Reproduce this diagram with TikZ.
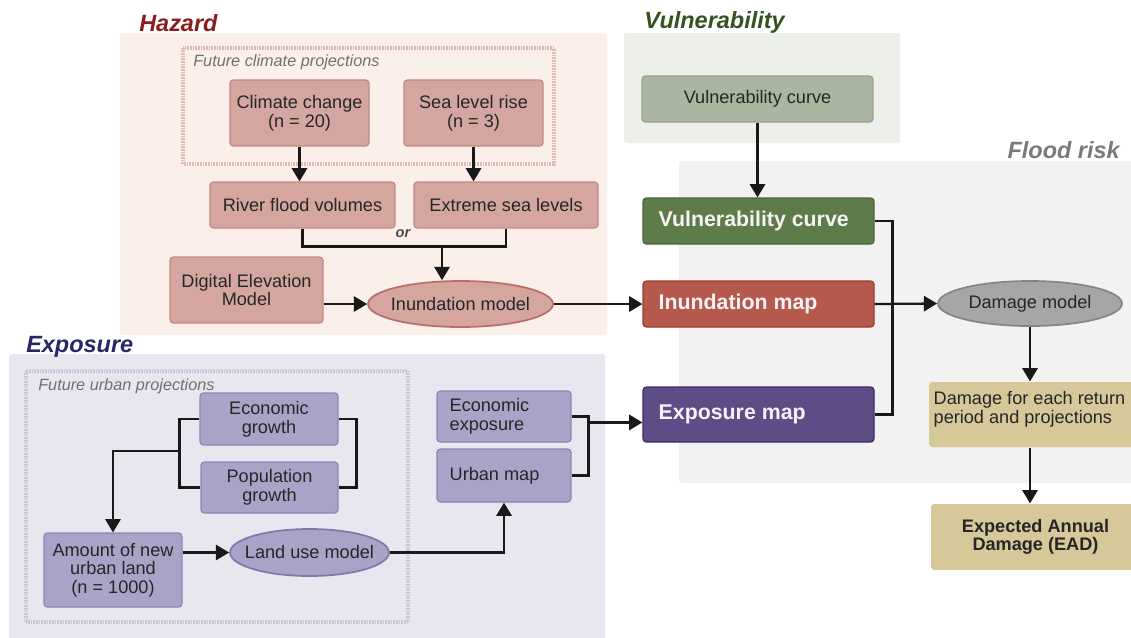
\documentclass[tikz,border=0pt]{standalone}
\usepackage{fontspec}
\setmainfont{Liberation Sans}
\usetikzlibrary{arrows.meta,calc,shapes.geometric}
\definecolor{txt}{HTML}{262626}
\definecolor{wtx}{HTML}{F6F2F6}
\definecolor{hzBg}{HTML}{FBEFE9}
\definecolor{hzF}{HTML}{D5A69F}
\definecolor{hzB}{HTML}{C48880}
\definecolor{hzE}{HTML}{B96E68}
\definecolor{hzDot}{HTML}{E2B9B9}
\definecolor{hzT}{HTML}{8A1C20}
\definecolor{vuBg}{HTML}{EDF0EA}
\definecolor{vuF}{HTML}{AAB69F}
\definecolor{vuB}{HTML}{98A48C}
\definecolor{vuT}{HTML}{35521F}
\definecolor{dgF}{HTML}{5E7B4A}
\definecolor{dgB}{HTML}{4A6837}
\definecolor{frBg}{HTML}{F2F2F2}
\definecolor{frT}{HTML}{7A7A7A}
\definecolor{rdF}{HTML}{B6594D}
\definecolor{rdB}{HTML}{A13A30}
\definecolor{puF}{HTML}{5E4C86}
\definecolor{puB}{HTML}{3C2D68}
\definecolor{gyF}{HTML}{A6A6A6}
\definecolor{gyB}{HTML}{858585}
\definecolor{tnF}{HTML}{D6C899}
\definecolor{exBg}{HTML}{E8E7F0}
\definecolor{exF}{HTML}{A8A4C7}
\definecolor{exB}{HTML}{8C86B3}
\definecolor{exE}{HTML}{7F79A8}
\definecolor{exDot}{HTML}{C9C6D9}
\definecolor{exT}{HTML}{2A2766}
\definecolor{subT}{HTML}{707070}
\newcommand\bodyf{\fontsize{13.6pt}{14pt}\selectfont}
\newcommand\titlef{\fontsize{17.6pt}{19pt}\selectfont}
\newcommand\whitef{\fontsize{16pt}{18pt}\selectfont}
\newcommand\subf{\fontsize{12.2pt}{14pt}\selectfont}
\tikzset{
  bsz/.style 2 args={minimum width=#1*0.75pt, minimum height=#2*0.75pt},
  every label/.style={font=\bodyf, text=txt, inner sep=0pt},
  boxbase/.style={rectangle, rounded corners=2.5pt, line width=0.9pt, align=center, font=\bodyf, text=txt, inner sep=0pt},
  hbox/.style={boxbase, draw=hzB, fill=hzF},
  hell/.style={ellipse, draw=hzE, fill=hzF, line width=1.3pt, inner sep=0pt},
  vlbox/.style={boxbase, draw=vuB, fill=vuF},
  dgbox/.style={boxbase, draw=dgB, fill=dgF},
  rdbox/.style={boxbase, draw=rdB, fill=rdF},
  pubox/.style={boxbase, draw=puB, fill=puF},
  gell/.style={ellipse, draw=gyB, fill=gyF, line width=1.3pt, inner sep=0pt},
  tnbox/.style={boxbase, draw=none, fill=tnF},
  pbox/.style={boxbase, draw=exB, fill=exF},
  pell/.style={ellipse, draw=exE, fill=exF, line width=1.3pt, inner sep=0pt},
  wlab/.style={label={[anchor=west, xshift=16*0.75pt, font=\whitef\bfseries, text=wtx, inner sep=0pt]west:{#1}}},
  llab/.style={label={[anchor=west, xshift=13*0.75pt, align=left, font=\bodyf, text=txt, inner sep=0pt]west:{#1}}},
  ttl/.style={font=\titlef\bfseries\itshape, inner sep=0pt},
  sub/.style={font=\subf\itshape, text=subT, inner sep=0pt},
  ortxt/.style={font=\fontsize{11pt}{12pt}\selectfont\bfseries\itshape, text=black!70, inner sep=0pt},
  ln/.style={line width=1.7pt, draw=black!90},
  arr/.style={ln, -{Triangle[length=10pt,width=11.5pt]}},
  hzdot/.style={draw=hzDot, line width=2.3pt, dash pattern=on 0.6pt off 0.6pt},
  exdot/.style={draw=exDot, line width=2.3pt, dash pattern=on 0.6pt off 0.6pt}
}
\begin{document}
\begin{tikzpicture}[x=0.75pt,y=-0.75pt]
\useasboundingbox[fill=white] (0,0) rectangle (1131,637);
% panels
\fill[hzBg, rounded corners=2pt] (120,33) rectangle (607,335);
\fill[vuBg, rounded corners=2pt] (624,33) rectangle (900,143);
\fill[frBg, rounded corners=2pt] (679,161) rectangle (1145,483);
\fill[exBg, rounded corners=2pt] (9,354) rectangle (605,645);
\draw[hzdot] (183,48) rectangle (554,164);
\draw[exdot] (26,371) rectangle (408,622);
% titles
\node[ttl, text=hzT, anchor=west] (tHaz) at (139,23) {Hazard};
\node[ttl, text=vuT, anchor=west] (tVul) at (644,22) {Vulnerability};
\node[ttl, text=frT, anchor=east] (tFr) at (1120,150) {Flood risk};
\node[ttl, text=exT, anchor=west] (tExp) at (26,347) {Exposure};
\node[sub, anchor=west] (lFcp) at (193,62) {Future climate projections};
\node[sub, anchor=west] (lFup) at (38,386) {Future urban projections};
% hazard nodes
\node[hbox, bsz={139}{66}] (cc) at (299.5,113) {Climate change\\(n = 20)};
\node[hbox, bsz={139}{66}] (slr) at (473.5,113) {Sea level rise\\(n = 3)};
\node[hbox, bsz={185}{46}] (rfv) at (302.5,205) {River flood volumes};
\node[hbox, bsz={184}{46}] (esl) at (506,205) {Extreme sea levels};
\node[hbox, bsz={153}{66}] (dem) at (246.5,290) {Digital Elevation\\Model};
\node[hell, bsz={185}{46}, label=center:Inundation model] (inm) at (460.5,304) {};
% vulnerability / flood risk nodes
\node[vlbox, bsz={231}{46}] (vcl) at (757.5,99) {Vulnerability curve};
\node[dgbox, bsz={231}{46}, wlab={Vulnerability curve}] (vcd) at (758.5,221) {};
\node[rdbox, bsz={231}{46}, wlab={Inundation map}] (imap) at (758.5,304) {};
\node[pubox, bsz={231}{55}, wlab={Exposure map}] (emap) at (758.5,414.5) {};
\node[gell, bsz={184}{45}, label=center:Damage model] (dmg) at (1030,303.5) {};
\node[tnbox, bsz={211}{65}, label={[anchor=west, xshift=5*0.75pt, yshift=4pt, align=left, font=\bodyf, text=txt, inner sep=0pt]west:{Damage for each return\\period and projections}}] (dfr) at (1034.5,414.5) {};
\node[tnbox, bsz={209}{66}, font=\bodyf\bfseries] (ead) at (1035.5,537) {Expected Annual\\Damage (EAD)};
% exposure nodes
\node[pbox, bsz={138}{52}] (eg) at (269,419) {Economic\\growth};
\node[pbox, bsz={137}{51}] (pg) at (269.5,487.5) {Population\\growth};
\node[pbox, bsz={138}{74}] (amt) at (113,570) {Amount of new\\urban land\\(n = 1000)};
\node[pell, bsz={159}{47}, label=center:Land use model] (lum) at (309.5,552.5) {};
\node[pbox, bsz={134}{51}, llab={Economic\\exposure}] (ee) at (504,416.5) {};
\node[pbox, bsz={134}{53}, llab={Urban map}] (um) at (504,475.5) {};
% hazard connectors
\draw[arr] (cc.south) -- (cc.south |- rfv.north);
\draw[arr] (slr.south) -- (slr.south |- esl.north);
\draw[ln] (rfv.south) -- ++(0,18) coordinate (orL) -| (esl.south);
\coordinate (orJ) at (442,246);
\draw[arr] (orJ) -- (orJ |- inm.north);
\node[ortxt] (orT) at (403,234) {or};
\draw[arr] (inm.west -| dem.east) -- (inm.west);
\draw[arr] (inm.east) -- (imap.west);
% vulnerability / flood risk connectors
\draw[arr] (vcl.south) -- (vcl.south |- vcd.north);
\draw[ln] (vcd.east) -- ++(18,0) |- (emap.east);
\draw[arr] (imap.east) -- (dmg.west);
\draw[arr] (dmg.south) -- (dmg.south |- dfr.north);
\draw[arr] (dfr.south -| dmg.south) -- (dmg.south |- ead.north);
% exposure connectors
\draw[ln] (eg.west) -- ++(-20,0) coordinate (lbT) |- (pg.west);
\coordinate (lbJ) at ($(lbT)!0.47!(lbT |- pg.west)$);
\draw[arr] (lbJ) -| (amt.north);
\draw[ln] (eg.east) -- ++(18,0) |- (pg.east);
\draw[arr] (lum.west -| amt.east) -- (lum.west);
\draw[arr] (lum.east) -| (um.south);
\draw[ln] (ee.east) -- ++(17,0) coordinate (rbT) |- (um.east);
\coordinate (rbJ) at ($(rbT)!0.1!(rbT |- um.east)$);
\draw[arr] (rbJ) -- (rbJ -| emap.west);
\end{tikzpicture}
\end{document}
